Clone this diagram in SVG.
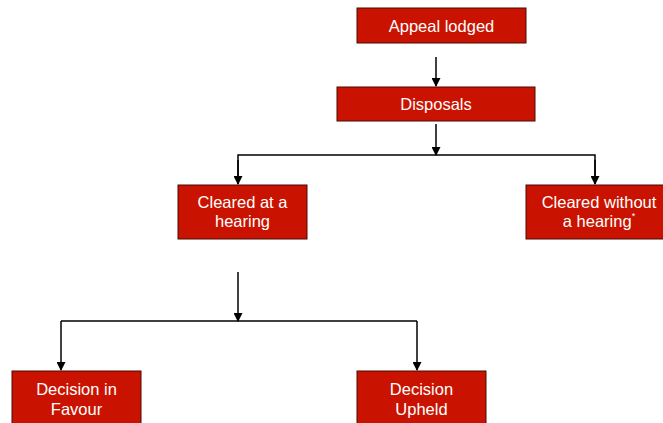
<svg xmlns="http://www.w3.org/2000/svg" width="663" height="423" viewBox="0 0 663 423">
<defs>
<style>
.box{fill:#c91300;stroke:#4a0a05;stroke-width:1}
.t{font-family:"Liberation Sans",Arial,sans-serif;font-size:16.5px;fill:#fff;text-anchor:middle}
.c{stroke:#000;stroke-width:1.5;fill:none}
</style>
<marker id="ah" viewBox="0 0 10 10" refX="9" refY="5" markerWidth="10" markerHeight="9" markerUnits="userSpaceOnUse" orient="auto">
<path d="M0,0 L10,5 L0,10 z" fill="#000"/>
</marker>
</defs>
<rect width="663" height="423" fill="#fff"/>
<g id="connectors">
<line class="c" x1="436" y1="57" x2="436" y2="86" marker-end="url(#ah)"/>
<line class="c" x1="436" y1="124" x2="436" y2="155" marker-end="url(#ah)"/>
<polyline class="c" points="238,184 238,155 595,155 595,184"/>
<line class="c" x1="238" y1="160" x2="238" y2="184" marker-end="url(#ah)"/>
<line class="c" x1="595" y1="160" x2="595" y2="184" marker-end="url(#ah)"/>
<line class="c" x1="238" y1="272" x2="238" y2="321" marker-end="url(#ah)"/>
<polyline class="c" points="61,321 417,321"/>
<line class="c" x1="61" y1="321" x2="61" y2="370" marker-end="url(#ah)"/>
<line class="c" x1="417" y1="321" x2="417" y2="370" marker-end="url(#ah)"/>
</g>
<g id="appeal">
<rect class="box" x="357" y="8" width="169" height="35"/>
<text class="t" x="441.5" y="32">Appeal lodged</text>
</g>
<g id="disposals">
<rect class="box" x="337" y="87" width="198" height="34"/>
<text class="t" x="436" y="110">Disposals</text>
</g>
<g id="cleared-hearing">
<rect class="box" x="178" y="185" width="129" height="54"/>
<text class="t" x="242.5" y="208">Cleared at a</text>
<text class="t" x="242.5" y="227">hearing</text>
</g>
<g id="cleared-without">
<rect class="box" x="526" y="185" width="146" height="54"/>
<text class="t" x="599" y="208">Cleared without</text>
<text class="t" x="599" y="227">a hearing<tspan font-size="9" dy="-8">*</tspan></text>
</g>
<g id="decision-favour">
<rect class="box" x="12" y="371" width="129" height="60"/>
<text class="t" x="76.5" y="395">Decision in</text>
<text class="t" x="76.5" y="415">Favour</text>
</g>
<g id="decision-upheld">
<rect class="box" x="357" y="371" width="129" height="60"/>
<text class="t" x="421.5" y="395">Decision</text>
<text class="t" x="421.5" y="415">Upheld</text>
</g>
</svg>
